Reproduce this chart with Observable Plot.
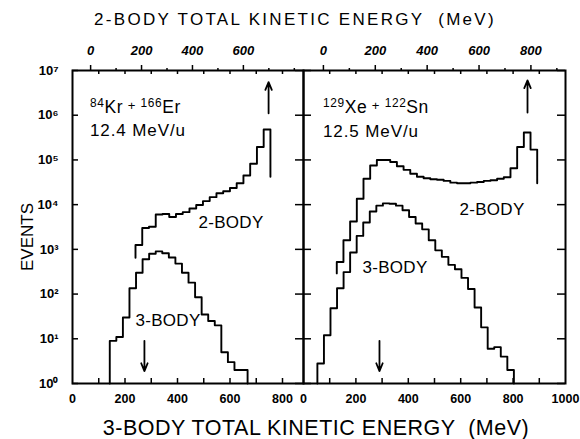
<!DOCTYPE html>
<html><head><meta charset="utf-8">
<script src="https://cdn.jsdelivr.net/npm/d3@7"></script>
<script src="https://cdn.jsdelivr.net/npm/@observablehq/plot@0.6"></script>
<style>
body{margin:0;background:#fff;}
#wrap{position:relative;width:580px;height:439px;overflow:hidden;font-family:"Liberation Sans",Arial,sans-serif;color:#000;background:#fff}
#wrap svg{position:absolute;top:0}
.t{position:absolute;white-space:pre;line-height:1;transform:translate(-50%,-50%)}
.t.l{transform:translate(0,-50%)}
.t sup{font-size:0.68em;line-height:0;vertical-align:0.5em}
.t .op{font-size:0.75em;padding:0 0.35em;line-height:0;vertical-align:0.17em}
</style></head><body><div id="wrap"></div>
<script>
// ---------- DATA ----------
// 84Kr + 166Er, 12.4 MeV/u  (x = 3-body TKE, MeV)
const krTwoStart = 240, krTwoBin = 25.7;
const krTwoCounts = [1250, 3000, 3200, 6000, 6200, 5300, 6200, 6800, 8200, 9800, 12000, 14700, 18000, 20000, 23500, 30000, 45000, 82000, 195000, 480000];
const krTwoEnds = [650, 42000];
const krThreeStart = 142, krThreeBin = 25;
const krThreeCounts = [9, 11, 30, 135, 300, 600, 800, 900, 820, 660, 480, 300, 180, 85, 35, 25, 20, 5, 3, 2, 2];
const krThreeEnds = [1, 1];
const krArrowX = [747, 274], krArrowFrom = [1.1e6, 9], krArrowTo = [5.5e6, 1.9];
// 129Xe + 122Sn, 12.5 MeV/u
const xeTwoStart = 127, xeTwoBin = 25.5;
const xeTwoCounts = [520, 1600, 4200, 13500, 38000, 75000, 100000, 100000, 90000, 72000, 60000, 49000, 42000, 39000, 37000, 36000, 34000, 31000, 30000, 30000, 31000, 32000, 34000, 35000, 38000, 41000, 65000, 194000, 410000, 170000];
const xeTwoEnds = [290, 30000];
const xeThreeStart = 53, xeThreeBin = 25;
const xeThreeCounts = [2.8, 12, 48, 135, 310, 850, 2000, 4000, 7000, 9500, 10700, 10500, 9500, 7500, 5300, 3800, 2800, 1600, 950, 680, 450, 360, 230, 130, 50, 18, 6, 6.5, 4, 2];
const xeThreeEnds = [1, 1];
const xeArrowX = [855, 290], xeArrowFrom = [1.15e6, 9], xeArrowTo = [6e6, 1.9];
// axes
const yTicks = [1, 1e1, 1e2, 1e3, 1e4, 1e5, 1e6, 1e7];
const krBottomLabels = [0, 200, 400, 600, 800];
const xeBottomLabels = [0, 200, 400, 600, 800, 1000];
const krInnerTicks = [100, 200, 300, 400, 500, 600, 700, 800];
const xeInnerTicks = [100, 200, 300, 400, 500, 600, 700, 800, 900];
// top axis: 2-body TKE, 3-body value = offset + slope * (2-body value)
const krTopOffset = 69, krTopSlope = 0.97;
const xeTopOffset = 76, xeTopSlope = 0.99;
const krTopLabels = [0, 200, 400, 600], krTopMinor = [100, 300, 500, 700, 800];
const xeTopLabels = [0, 200, 400, 600, 800], xeTopMinor = [100, 300, 500, 700, 900];

// ---------- DRAW ----------
const SUP = "⁰¹²³⁴⁵⁶⁷⁸⁹";
const H = 439, MT = 70, MB = 56, PH = H - MT - MB;

function hist(start, bin, counts, ends) {
  const pts = [{x: start, y: ends[0]}];
  counts.forEach((c, i) => pts.push({x: start + i * bin, y: c}));
  pts.push({x: start + counts.length * bin, y: ends[1]});
  return pts;
}

function panel(o) {
  const PW = o.width - o.ml - o.mr;
  const lineOpts = {x: "x", y: "y", curve: "step-after", stroke: "black", strokeWidth: 1.9};
  const toTop = v => o.topOff + o.topSlope * v;
  const marks = [
    Plot.frame({stroke: "black", strokeWidth: 2}),
    Plot.line(hist(...o.two), lineOpts),
    Plot.line(hist(...o.three), lineOpts),
    Plot.arrow(o.arrowX.map((_, i) => i), {
      x1: i => o.arrowX[i], x2: i => o.arrowX[i],
      y1: i => o.arrowFrom[i], y2: i => o.arrowTo[i],
      stroke: "black", strokeWidth: 1.8, headLength: 7, headAngle: 45
    }),
    // inner ticks
    Plot.tickX(o.inner, {x: d => d, insetTop: PH - 5, strokeWidth: 1.5}),
    Plot.tickX(o.inner, {x: d => d, insetBottom: PH - 4, strokeWidth: 1.5}),
    Plot.tickY(yTicks, {y: d => d, insetRight: PW - (o.leftIn ? 6 : 8), strokeWidth: 1.5}),
    Plot.tickY(yTicks, {y: d => d, insetLeft: PW - 8, strokeWidth: 1.5}),
    // bottom labels
    Plot.axisX(o.bottom, {anchor: "bottom", tickSize: 0, tickPadding: 11, fontSize: 12.5, fontWeight: "bold",
      tickFormat: d => String(d)}),
    // top 2-body axis
    Plot.axisX(o.topLabels.map(toTop), {anchor: "top", tickSize: 6, tickPadding: 10, strokeWidth: 1.5,
      fontSize: 13, fontWeight: "bold", fontStyle: "italic",
      tickFormat: d => String(Math.round((d - o.topOff) / o.topSlope))}),
    Plot.axisX(o.topMinor.map(toTop), {anchor: "top", tickSize: 3, strokeWidth: 1.5, tickFormat: () => ""})
  ];
  if (o.yAxis) marks.push(Plot.axisY(yTicks, {anchor: "left", tickSize: 0, tickPadding: 14,
      fontSize: 13, fontWeight: "bold", tickFormat: d => "10" + SUP[Math.round(Math.log10(d))]}));
  else marks.push(Plot.axisY({ticks: [], label: null}));
  const svg = Plot.plot({
    width: o.width, height: H, marginTop: MT, marginBottom: MB, marginLeft: o.ml, marginRight: o.mr,
    x: {domain: o.domain, label: null},
    y: {type: "log", domain: [1, 1e7], label: null},
    style: {background: "transparent", fontFamily: "Liberation Sans, Arial, sans-serif", overflow: "visible"},
    marks
  });
  svg.style.left = o.left + "px";
  return svg;
}

const wrap = document.getElementById("wrap");
wrap.appendChild(panel({
  left: 0, width: 303, ml: 72, mr: 0, domain: [0, 880], leftIn: true, yAxis: true,
  two: [krTwoStart, krTwoBin, krTwoCounts, krTwoEnds],
  three: [krThreeStart, krThreeBin, krThreeCounts, krThreeEnds],
  arrowX: krArrowX, arrowFrom: krArrowFrom, arrowTo: krArrowTo,
  inner: krInnerTicks, bottom: krBottomLabels,
  topOff: krTopOffset, topSlope: krTopSlope, topLabels: krTopLabels, topMinor: krTopMinor
}));
wrap.appendChild(panel({
  left: 283, width: 297, ml: 20, mr: 15, domain: [0, 1000], leftIn: false, yAxis: false,
  two: [xeTwoStart, xeTwoBin, xeTwoCounts, xeTwoEnds],
  three: [xeThreeStart, xeThreeBin, xeThreeCounts, xeThreeEnds],
  arrowX: xeArrowX, arrowFrom: xeArrowFrom, arrowTo: xeArrowTo,
  inner: xeInnerTicks, bottom: xeBottomLabels,
  topOff: xeTopOffset, topSlope: xeTopSlope, topLabels: xeTopLabels, topMinor: xeTopMinor
}));

function label(html, x, y, size, cls = "", extra = "") {
  const d = document.createElement("div");
  d.className = "t " + cls;
  d.style.cssText = `left:${x}px;top:${y}px;font-size:${size}px;${extra}`;
  d.innerHTML = html;
  wrap.appendChild(d);
}
label("2-BODY TOTAL KINETIC ENERGY  (MeV)", 295, 19, 17, "", "letter-spacing:2.3px");
label("3-BODY TOTAL KINETIC ENERGY  (MeV)", 316, 429, 21.5, "", "letter-spacing:0.5px");
label("EVENTS", 27, 237, 17, "", "transform:translate(-50%,-50%) rotate(-90deg);font-family:'Liberation Sans Narrow','Liberation Sans',sans-serif");
label("<sup>84</sup>Kr<span class='op'>+</span><sup>166</sup>Er", 90, 107.5, 17.5, "l", "letter-spacing:0.6px");
label("12.4 MeV/u", 90, 130, 17, "l", "letter-spacing:0.9px");
label("2-BODY", 231, 221.5, 17, "", "letter-spacing:0.3px");
label("3-BODY", 168, 320, 17, "", "letter-spacing:0.3px");
label("<sup>129</sup>Xe<span class='op'>+</span><sup>122</sup>Sn", 323, 107.5, 17.5, "l", "letter-spacing:0.6px");
label("12.5 MeV/u", 323, 130.5, 17, "l", "letter-spacing:0.9px");
label("2-BODY", 492, 208.5, 17, "", "letter-spacing:0.3px");
label("3-BODY", 395, 267, 17, "", "letter-spacing:0.3px");
</script></body></html>
